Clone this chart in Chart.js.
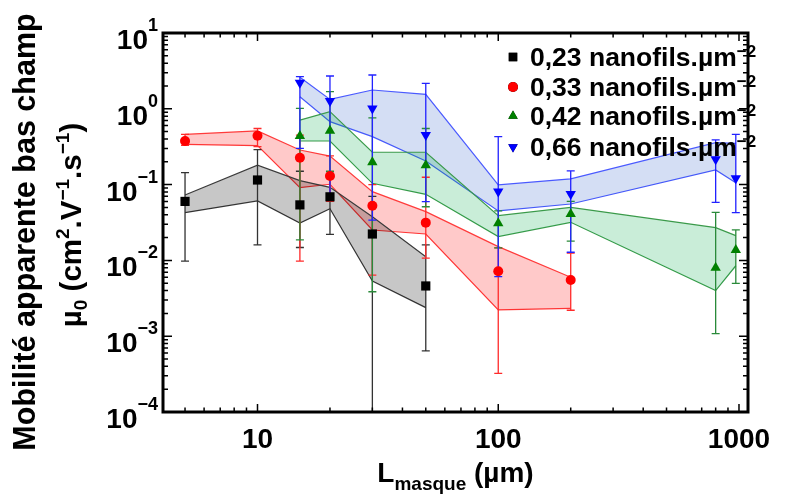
<!DOCTYPE html>
<html>
<head>
<meta charset="utf-8">
<script src="https://cdn.jsdelivr.net/npm/chart.js@4.4.1/dist/chart.umd.min.js"></script>
<style>
  html, body { margin: 0; padding: 0; background: #fff; }
  #wrap { width: 785px; height: 499px; }
</style>
</head>
<body>
<div id="wrap"><canvas id="mobChart" width="785" height="499"></canvas></div>
<script>
// values (L in µm, mu0 in cm2/V/s)
const xBlack = [5, 10, 15, 20, 30, 50];
const muBlack = [0.060, 0.115, 0.054, 0.069, 0.0223, 0.0046];
const hiBlack = [0.144, 0.29, 0.15, 0.14, 0.07, 0.016];
const loBlack = [0.0098, 0.016, 0.0148, 0.022, 0.00001, 0.00064];
const bandTopBlack = [0.073, 0.18, 0.113, 0.092, 0.0377, 0.0112];
const bandBotBlack = [0.0426, 0.061, 0.031, 0.048, 0.00535, 0.00238];

const xRed = [5, 10, 15, 20, 30, 50, 100, 200];
const muRed = [0.376, 0.44, 0.226, 0.13, 0.0527, 0.0315, 0.0072, 0.0055];
const hiRed = [0.46, 0.55, 0.45, 0.24, 0.1, 0.125, 0.0146, 0.0125];
const loRed = [0.33, 0.316, 0.0098, 0.06, 0.0064, 0.0107, 0.000324, 0.0022];
const bandTopRed = [0.46, 0.51, 0.286, 0.238, 0.0807, 0.044, 0.0152, 0.006];
const bandBotRed = [0.34, 0.327, 0.091, 0.101, 0.0252, 0.0223, 0.00222, 0.00233];

const xGreen = [15, 20, 30, 50, 100, 200, 800, 970];
const muGreen = [0.437, 0.515, 0.197, 0.18, 0.031, 0.041, 0.008, 0.0137];
const hiGreen = [1.01, 1.68, 0.76, 0.55, 0.045, 0.06, 0.043, 0.0252];
const loGreen = [0.0186, 0.15, 0.00386, 0.051, 0.0146, 0.018, 0.00108, 0.00498];
const bandTopGreen = [0.71, 0.916, 0.267, 0.267, 0.0389, 0.05, 0.027, 0.0212];
const bandBotGreen = [0.376, 0.376, 0.104, 0.0745, 0.0206, 0.0318, 0.004, 0.0085];

const xBlue = [15, 20, 30, 50, 100, 200, 800, 970];
const muBlue = [2.21, 1.27, 1.01, 0.451, 0.081, 0.075, 0.216, 0.121];
const hiBlue = [2.65, 2.71, 2.79, 2.17, 0.43, 0.152, 0.388, 0.46];
const loBlue = [0.3, 0.07, 0.034, 0.0595, 0.0061, 0.0128, 0.0583, 0.0426];
const bandTopBlue = [2.6, 1.33, 1.77, 1.55, 0.0989, 0.119, 0.357, 0.35];
const bandBotBlue = [1.44, 0.676, 0.43, 0.205, 0.0449, 0.0555, 0.156, 0.106];

const seriesLabels = ['0,23 nanofils.µm', '0,33 nanofils.µm', '0,42 nanofils.µm', '0,66 nanofils.µm'];
const xTickValues = [10, 100, 1000];
const yTickExps = [1, 0, -1, -2, -3, -4];

const FONT = '"Liberation Sans", Arial, sans-serif';

const series = [
  { x: xBlack, mu: muBlack, hi: hiBlack, lo: loBlack, top: bandTopBlack, bot: bandBotBlack,
    point: '#000000', err: '#333333', line: '#3a3a3a', fill: 'rgba(0,0,0,0.22)', style: 'rect', radius: 6.5, rot: 0 },
  { x: xRed, mu: muRed, hi: hiRed, lo: loRed, top: bandTopRed, bot: bandBotRed,
    point: '#ff0000', err: '#ff2a2a', line: '#ff3b3b', fill: 'rgba(255,0,0,0.21)', style: 'circle', radius: 5, rot: 0 },
  { x: xGreen, mu: muGreen, hi: hiGreen, lo: loGreen, top: bandTopGreen, bot: bandBotGreen,
    point: '#008000', err: '#2a8a3a', line: '#3a9a4a', fill: 'rgba(0,170,70,0.21)', style: 'triangle', radius: 6, rot: 0 },
  { x: xBlue, mu: muBlue, hi: hiBlue, lo: loBlue, top: bandTopBlue, bot: bandBotBlue,
    point: '#0000ff', err: '#2222ff', line: '#4a5aff', fill: 'rgba(40,90,200,0.2)', style: 'triangle', radius: 6, rot: 180 }
];

const pts = (xs, ys) => xs.map((v, i) => ({ x: v, y: ys[i] }));

const datasets = [];
series.forEach(s => {
  datasets.push({ kind: 'band', data: pts(s.x, s.top), borderColor: s.line, borderWidth: 1.2,
    backgroundColor: s.fill, fill: '+1', pointRadius: 0, showLine: true, order: 2, tension: 0 });
  datasets.push({ kind: 'band', data: pts(s.x, s.bot), borderColor: s.line, borderWidth: 1.2,
    fill: false, pointRadius: 0, showLine: true, order: 2, tension: 0 });
});
series.forEach((s, k) => {
  datasets.push({ kind: 'points', sIndex: k, data: pts(s.x, s.mu), showLine: false, order: 0,
    pointStyle: s.style, pointRadius: s.radius, pointRotation: s.rot,
    pointBackgroundColor: s.point, pointBorderColor: s.point, pointBorderWidth: 0 });
});

// text made of pieces: {t, size, dy}
function richWidth(ctx, parts) {
  let w = 0;
  parts.forEach(p => { ctx.font = 'bold ' + p.size + 'px ' + FONT; w += ctx.measureText(p.t).width; });
  return w;
}
function drawRich(ctx, parts, x, y, align) {
  const w = richWidth(ctx, parts);
  let cx = align === 'right' ? x - w : align === 'center' ? x - w / 2 : x;
  ctx.textAlign = 'left';
  ctx.textBaseline = 'alphabetic';
  parts.forEach(p => {
    ctx.font = 'bold ' + p.size + 'px ' + FONT;
    ctx.fillText(p.t, cx, y + (p.dy || 0));
    cx += ctx.measureText(p.t).width;
  });
}

let barsDone = false;
const errorBars = {
  id: 'errorBars',
  beforeDatasetsDraw() { barsDone = false; },
  beforeDatasetDraw(chart, args) {
    if (barsDone || chart.data.datasets[args.index].kind !== 'points') return;
    barsDone = true;
    const { ctx, chartArea: a, scales: { x, y } } = chart;
    ctx.save();
    ctx.beginPath();
    ctx.rect(a.left, a.top, a.right - a.left, a.bottom - a.top);
    ctx.clip();
    ctx.lineWidth = 1.3;
    series.forEach(s => {
      ctx.strokeStyle = s.err;
      s.x.forEach((v, i) => {
        const px = x.getPixelForValue(v);
        const pt = y.getPixelForValue(s.hi[i]);
        const pb = y.getPixelForValue(s.lo[i]);
        ctx.beginPath();
        ctx.moveTo(px, pt); ctx.lineTo(px, pb);
        ctx.moveTo(px - 4, pt); ctx.lineTo(px + 4, pt);
        ctx.moveTo(px - 4, pb); ctx.lineTo(px + 4, pb);
        ctx.stroke();
      });
    });
    ctx.restore();
  }
};

const frame = {
  id: 'frame',
  afterDraw(chart) {
    const { ctx, chartArea: a, scales: { x, y } } = chart;
    ctx.save();
    ctx.strokeStyle = '#000';
    ctx.fillStyle = '#000';
    // minor and major ticks on all four sides, pointing inward
    ctx.lineWidth = 1.5;
    for (let e = 0; e <= 3; e++) {
      for (let m = 1; m <= 9; m++) {
        const v = m * Math.pow(10, e);
        if (v < x.min || v > x.max) continue;
        const px = x.getPixelForValue(v);
        const len = m === 1 ? 8 : 4.5;
        ctx.beginPath();
        ctx.moveTo(px, a.bottom); ctx.lineTo(px, a.bottom - len);
        ctx.moveTo(px, a.top); ctx.lineTo(px, a.top + len);
        ctx.stroke();
      }
    }
    for (let e = -4; e <= 1; e++) {
      for (let m = 1; m <= 9; m++) {
        const v = m * Math.pow(10, e);
        if (v < y.min * 0.999 || v > y.max * 1.001) continue;
        const py = y.getPixelForValue(v);
        const len = m === 1 ? 9 : 5;
        ctx.beginPath();
        ctx.moveTo(a.left, py); ctx.lineTo(a.left + len, py);
        ctx.moveTo(a.right, py); ctx.lineTo(a.right - len, py);
        ctx.stroke();
      }
    }
    ctx.lineWidth = 3;
    ctx.strokeRect(a.left, a.top, a.right - a.left, a.bottom - a.top);

    // y tick labels 10^n, sitting a little below their tick
    yTickExps.forEach(e => {
      const py = y.getPixelForValue(Math.pow(10, e)) + 16;
      const ex = e < 0 ? '\u2212' + (-e) : String(e);
      drawRich(ctx, [{ t: '10', size: 28 }, { t: ex, size: 18, dy: -18 }], a.left - 5, py, 'right');
    });
    // x tick labels
    xTickValues.forEach(v => {
      drawRich(ctx, [{ t: String(v), size: 28 }], x.getPixelForValue(v), 448, 'center');
    });
    // x title
    drawRich(ctx, [{ t: 'L', size: 28 }, { t: 'masque', size: 19, dy: 8 }, { t: ' (\u00b5m)', size: 28 }],
      (a.left + a.right) / 2, 482, 'center');
    // y title, two rotated lines
    ctx.save();
    ctx.translate(35, 232);
    ctx.rotate(-Math.PI / 2);
    drawRich(ctx, [{ t: 'Mobilit\u00e9 apparente bas champ', size: 30.5 }], 0, 0, 'center');
    ctx.restore();
    ctx.save();
    ctx.translate(81, 225);
    ctx.rotate(-Math.PI / 2);
    drawRich(ctx, [
      { t: '\u00b5', size: 29.5 }, { t: '0', size: 19, dy: 6 }, { t: ' (cm', size: 29.5 },
      { t: '2', size: 19, dy: -12 }, { t: '.V', size: 29.5 }, { t: '\u22121', size: 19, dy: -12 },
      { t: '.s', size: 29.5 }, { t: '\u22121', size: 19, dy: -12 }, { t: ')', size: 29.5 }
    ], 0, 0, 'center');
    ctx.restore();

    // legend
    const rows = [57, 87, 116, 147];
    series.forEach((s, k) => {
      const cy = rows[k];
      Chart.helpers.drawPoint(ctx, { pointStyle: s.style, radius: k === 0 ? 6 : k === 1 ? 5 : 5.5, rotation: s.rot, borderWidth: 0 }, 513, cy);
      ctx.fillStyle = s.point;
      ctx.fill();
      ctx.fillStyle = '#000';
      drawRich(ctx, [{ t: seriesLabels[k], size: 26.5 }, { t: '\u22122', size: 17, dy: -9 }], 530, cy + 9, 'left');
    });
    ctx.restore();
  }
};

const mobChart = new Chart(document.getElementById('mobChart').getContext('2d'), {
  type: 'line',
  data: { datasets: datasets },
  options: {
    responsive: false,
    animation: false,
    layout: { padding: { left: 163, top: 33, right: 37, bottom: 87 } },
    scales: {
      x: { type: 'logarithmic', min: 4.05, max: 1090,
        ticks: { display: false }, grid: { display: false, drawTicks: false }, border: { display: false } },
      y: { type: 'logarithmic', min: 1e-4, max: 10,
        ticks: { display: false }, grid: { display: false, drawTicks: false }, border: { display: false } }
    },
    plugins: { legend: { display: false }, tooltip: { enabled: false } }
  },
  plugins: [errorBars, frame]
});
</script>
</body>
</html>
